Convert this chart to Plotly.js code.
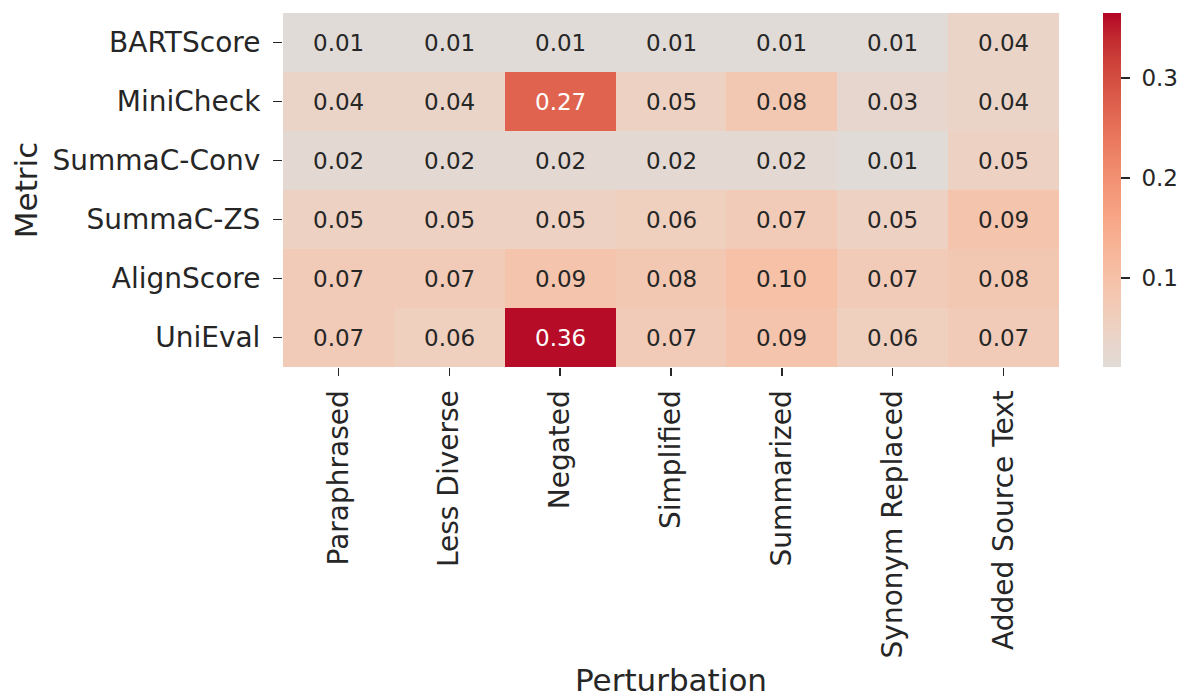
<!DOCTYPE html>
<html>
<head>
<meta charset="utf-8">
<script src="https://cdn.plot.ly/plotly-3.0.1.min.js"></script>
<style>
  html, body { margin: 0; padding: 0; background: #ffffff; }
  #chart { width: 1190px; height: 698px; }
</style>
</head>
<body>
<div id="chart"></div>
<script>
// Perturbations (columns) and metrics (rows)
const perturbations = ["Paraphrased", "Less Diverse", "Negated", "Simplified", "Summarized", "Synonym Replaced", "Added Source Text"];
const metrics = ["BARTScore", "MiniCheck", "SummaC-Conv", "SummaC-ZS", "AlignScore", "UniEval"];

// One row of values per metric
const bartscore  = [0.01, 0.01, 0.01, 0.01, 0.01, 0.01, 0.04];
const minicheck  = [0.04, 0.04, 0.27, 0.05, 0.08, 0.03, 0.04];
const summacConv = [0.02, 0.02, 0.02, 0.02, 0.02, 0.01, 0.05];
const summacZs   = [0.05, 0.05, 0.05, 0.06, 0.07, 0.05, 0.09];
const alignscore = [0.07, 0.07, 0.09, 0.08, 0.10, 0.07, 0.08];
const unieval    = [0.07, 0.06, 0.36, 0.07, 0.09, 0.06, 0.07];

// Colour bar range and ticks
const colorMin = 0.011;
const colorMax = 0.365;
const colorTicks = [0.1, 0.2, 0.3];

const z = [bartscore, minicheck, summacConv, summacZs, alignscore, unieval];

// Upper (warm) half of the cool-warm diverging map, centred on zero
const warmHalf = [
  [0.5, [221,221,221]], [0.53125, [229,216,209]], [0.5625, [236,211,197]],
  [0.59375, [241,204,184]], [0.625, [245,196,172]], [0.65625, [247,187,159]],
  [0.6875, [247,177,147]], [0.71875, [247,166,134]], [0.75, [244,154,123]],
  [0.78125, [241,141,111]], [0.8125, [236,127,99]], [0.84375, [229,112,88]],
  [0.875, [222,96,77]], [0.90625, [213,80,66]], [0.9375, [203,62,56]],
  [0.96875, [192,40,47]], [1.0, [180,4,38]]
];

function mapColor(p) {
  for (let i = 1; i < warmHalf.length; i++) {
    const [p0, c0] = warmHalf[i - 1];
    const [p1, c1] = warmHalf[i];
    if (p <= p1) {
      const t = Math.max(0, (p - p0) / (p1 - p0));
      return c0.map((c, k) => c + (c1[k] - c) * t);
    }
  }
  return warmHalf[warmHalf.length - 1][1];
}
const rgb = c => `rgb(${c.map(v => Math.round(v)).join(",")})`;

// Values map to map position p = (v + R) / (2R), R = largest magnitude
const R = Math.max(Math.abs(colorMin), Math.abs(colorMax));
const toP = v => (v + R) / (2 * R);
const pMin = toP(colorMin);
const colorscale = [[0, rgb(mapColor(pMin))]];
warmHalf.forEach(([p, c]) => {
  if (p > pMin) {
    const v = (2 * p - 1) * R;
    colorscale.push([Math.min(1, (v - colorMin) / (colorMax - colorMin)), rgb(c)]);
  }
});

// Light text on dark cells, dark text on light cells
function textColor(v) {
  const c = mapColor(toP(Math.min(Math.max(v, colorMin), colorMax))).map(x => {
    x /= 255;
    return x <= 0.03928 ? x / 12.92 : Math.pow((x + 0.055) / 1.055, 2.4);
  });
  const lum = 0.2126 * c[0] + 0.7152 * c[1] + 0.0722 * c[2];
  return lum < 0.408 ? "#ffffff" : "#262626";
}

const annotations = [];
z.forEach((row, i) => row.forEach((v, j) => {
  annotations.push({
    x: perturbations[j], y: metrics[i], xref: "x", yref: "y",
    text: v.toFixed(2), showarrow: false,
    font: { family: "DejaVu Sans", size: 23, color: textColor(v) }
  });
}));

const trace = {
  type: "heatmap",
  x: perturbations,
  y: metrics,
  z: z,
  zmin: colorMin,
  zmax: colorMax,
  colorscale: colorscale,
  xgap: 0, ygap: 0,
  hoverinfo: "x+y+z",
  colorbar: {
    x: 1.0564, xanchor: "left", xref: "paper", xpad: 0,
    y: 0.5, yanchor: "middle", len: 1, lenmode: "fraction", ypad: 0,
    thickness: 18, outlinewidth: 0,
    tickvals: colorTicks, ticktext: colorTicks.map(t => "\u00a0" + t.toFixed(1)),
    ticks: "outside", ticklen: 9, tickwidth: 1.3, tickcolor: "#262626",
    tickfont: { family: "DejaVu Sans", size: 23, color: "#262626" }
  }
};

const layout = {
  width: 1190, height: 698,
  margin: { l: 283, r: 127, t: 13, b: 331 },
  paper_bgcolor: "#ffffff", plot_bgcolor: "#ffffff",
  font: { family: "DejaVu Sans", color: "#262626" },
  xaxis: {
    type: "category", tickangle: -90,
    ticks: "outside", ticklen: 8, tickwidth: 1.3, tickcolor: "#262626",
    ticklabelstandoff: 3,
    tickfont: { family: "DejaVu Sans", size: 28, color: "#262626" },
    showgrid: false, zeroline: false, showline: false,
    automargin: false,
    title: { text: "Perturbation", standoff: 18,
             font: { family: "DejaVu Sans", size: 31, color: "#262626" } }
  },
  yaxis: {
    type: "category", autorange: "reversed",
    ticks: "outside", ticklen: 9, tickwidth: 1.3, tickcolor: "#262626",
    ticklabelstandoff: 7,
    tickfont: { family: "DejaVu Sans", size: 28, color: "#262626" },
    showgrid: false, zeroline: false, showline: false,
    automargin: false,
    title: { text: "Metric", standoff: 5,
             font: { family: "DejaVu Sans", size: 31, color: "#262626" } }
  },
  annotations: annotations
};

Plotly.newPlot("chart", [trace], layout, { displayModeBar: false, staticPlot: true });
</script>
</body>
</html>
